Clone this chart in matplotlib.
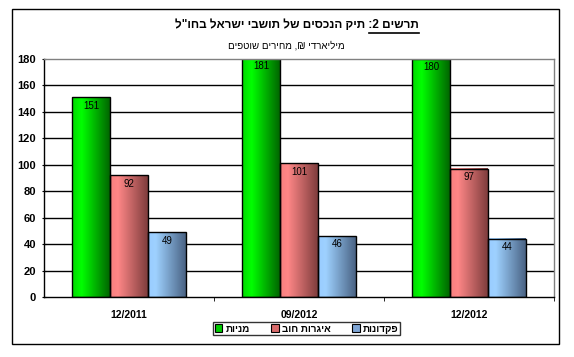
import matplotlib
matplotlib.use("Agg")
import matplotlib.pyplot as plt
import numpy as np
from matplotlib.patches import Rectangle, Patch
from matplotlib.colors import LinearSegmentedColormap

plt.rcParams['font.family'] = ['Liberation Sans', 'DejaVu Sans']

categories = ["12/2011", "09/2012", "12/2012"]
series_names = ["מניות", "איגרות חוב", "פקדונות"]
stocks = [151, 181, 180]
bonds = [92, 101, 97]
deposits = [49, 46, 44]
yticks = [0, 20, 40, 60, 80, 100, 120, 140, 160, 180]

title_main = 'תרשים 2:'
title_rest = 'תיק הנכסים של תושבי ישראל בחו"ל'
subtitle = "מיליארדי ₪, מחירים שוטפים"


def vis(s):
    """Visual (right-to-left) order for a Hebrew string; keep digit runs LTR."""
    r = s[::-1]
    out, num = [], ""
    for ch in r:
        if ch.isdigit():
            num += ch
        else:
            if num:
                out.append(num[::-1])
                num = ""
            out.append(ch)
    if num:
        out.append(num[::-1])
    return "".join(out)


grad = [
    [(0.0, (0.0, 0.85, 0.0)), (0.25, (0.0, 1.0, 0.0)), (1.0, (0.0, 0.40, 0.0))],
    [(0.0, (0.97, 0.50, 0.50)), (0.2, (1.0, 0.53, 0.53)), (1.0, (0.50, 0.24, 0.24))],
    [(0.0, (0.60, 0.80, 1.0)), (0.2, (0.62, 0.82, 1.0)), (1.0, (0.29, 0.39, 0.52))],
]
legend_cols = ["#00CC00", "#D86A6A", "#7FA6D6"]

W, H = 574, 357
fig = plt.figure(figsize=(W / 100, H / 100), dpi=100)
fig.patch.set_facecolor("white")

# outer border
fig.add_artist(Rectangle((12 / W, 1 - 344 / H), (559 - 12) / W, (344 - 9) / H,
                         transform=fig.transFigure, fill=False, edgecolor="black", lw=1.0))

ax = fig.add_axes([44 / W, 1 - 297 / H, (554 - 44) / W, (297 - 59) / H])
x = np.arange(len(categories))
bw = 0.2235
data = [stocks, bonds, deposits]
xlim = (-0.5, len(categories) - 0.5)
ylim = (0, 180)

for i, vals in enumerate(data):
    offs = (i - 1) * bw
    bars = ax.bar(x + offs, vals, width=bw, facecolor="none", edgecolor="black",
                  linewidth=1.0, zorder=4)
    cmap = LinearSegmentedColormap.from_list(f"g{i}", grad[i])
    g = np.linspace(0, 1, 64).reshape(1, -1)
    for b, v in zip(bars, vals):
        x0 = b.get_x()
        ax.imshow(g, cmap=cmap, extent=(x0, x0 + bw, 0, v), aspect="auto",
                  interpolation="bilinear", zorder=3)
        ax.text(x0 + bw / 2, v - 2.5, str(v), ha="center", va="top", fontsize=7,
                color="black", zorder=5)

ax.set_xlim(*xlim)
ax.set_ylim(*ylim)
ax.set_yticks(yticks)
ax.set_yticklabels([str(t) for t in yticks], fontsize=8, fontweight="bold")
for t in yticks[1:-1]:
    ax.axhline(t, color="black", lw=1.0, zorder=1)
ax.set_xticks(x)
ax.set_xticklabels(categories, fontsize=7.5, fontweight="bold")
ax.tick_params(axis="x", length=0, pad=9)
ax.set_xticks([0.5, 1.5, 2.5], minor=True)
ax.tick_params(axis="x", which="minor", length=3, direction="out", color="black")
ax.tick_params(axis="y", length=3.5, direction="inout", pad=4, color="black")
for s in ["top", "right"]:
    ax.spines[s].set_color("#808080")
for s in ["left", "bottom"]:
    ax.spines[s].set_color("black")
for s in ax.spines.values():
    s.set_linewidth(1.0)
    s.set_zorder(6)

# title (right-to-left): "תרשים 2:" underlined at the start of the line
full_title = title_main + " " + title_rest
tt = fig.text(297 / W, 1 - 25 / H, vis(full_title), fontsize=8.5, fontweight="bold",
              ha="center", va="center")
tm = fig.text(0, 0, vis(title_main), fontsize=8.5, fontweight="bold", alpha=0)
fig.canvas.draw()
bb = tt.get_window_extent()
wm = tm.get_window_extent().width
tm.remove()
fig.add_artist(plt.Line2D([(bb.x1 - wm) / W, bb.x1 / W], [1 - 33 / H, 1 - 33 / H],
                          transform=fig.transFigure, color="black", lw=1.2))
fig.text(286 / W, 1 - 45 / H, vis(subtitle), fontsize=7, ha="center", va="center")

handles = [Patch(facecolor=c, edgecolor="black", lw=0.8) for c in legend_cols]
leg = fig.legend(handles, [vis(s) for s in series_names], loc="center", ncol=3,
                 bbox_to_anchor=((218 + 395) / 2 / W, 1 - 328.5 / H),
                 prop={"size": 7, "weight": "bold"}, frameon=True, fancybox=False,
                 edgecolor="black", handlelength=0.8, handleheight=0.8,
                 handletextpad=0.3, columnspacing=2.2, borderpad=0.2,
                 borderaxespad=0)
leg.get_frame().set_linewidth(1.0)

fig.savefig("out.png", dpi=100, facecolor="white")
